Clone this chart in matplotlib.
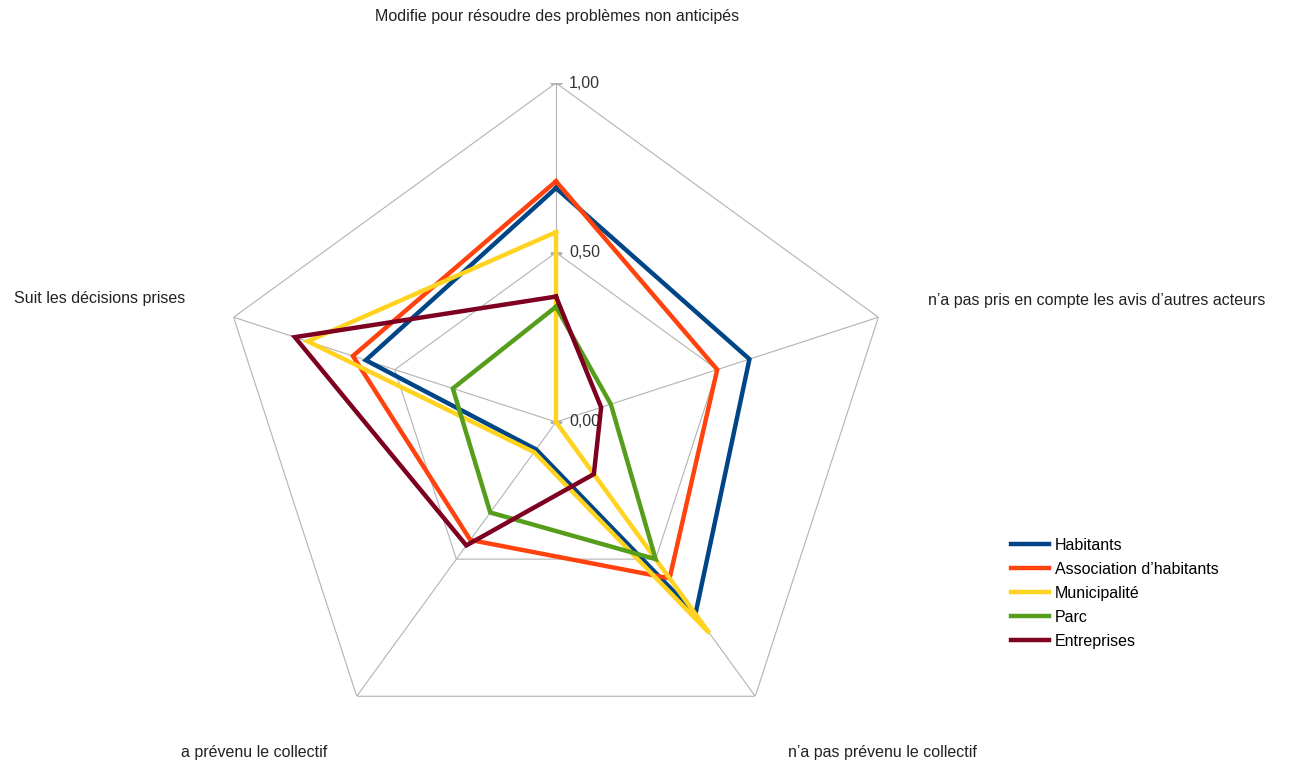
import numpy as np
import matplotlib.pyplot as plt

plt.rcParams['font.family'] = ['Liberation Sans', 'DejaVu Sans']

# Axes (clockwise from top)
categories = [
    "Modifie pour résoudre des problèmes non anticipés",
    "n’a pas pris en compte les avis d’autres acteurs",
    "n’a pas prévenu le collectif",
    "a prévenu le collectif",
    "Suit les décisions prises",
]

# Series values
habitants = [0.69, 0.60, 0.70, 0.10, 0.59]
association = [0.71, 0.50, 0.57, 0.43, 0.63]
municipalite = [0.56, 0.00, 0.77, 0.11, 0.77]
parc = [0.34, 0.17, 0.50, 0.33, 0.32]
entreprises = [0.37, 0.14, 0.19, 0.45, 0.81]

series_names = ["Habitants", "Association d’habitants", "Municipalité", "Parc", "Entreprises"]
series_values = [habitants, association, municipalite, parc, entreprises]
colors = ["#004586", "#ff420e", "#ffd320", "#579d1c", "#7e0021"]

ticks = [0.0, 0.5, 1.0]
tick_labels = ["0,00", "0,50", "1,00"]

W, H = 1289, 764
fig = plt.figure(figsize=(W / 100, H / 100), dpi=100)

# polar axes centred at (556, 422) px with radius 339 px
cx, cy, R = 556, 422, 339
ax = fig.add_axes([(cx - R) / W, (H - cy - R) / H, 2 * R / W, 2 * R / H],
                  projection='polar')
ax.set_theta_zero_location('N')
ax.set_theta_direction(-1)
ax.set_ylim(0, 1)
ax.set_axis_off()

n = len(categories)
theta = np.linspace(0, 2 * np.pi, n, endpoint=False)
theta_closed = np.append(theta, theta[0])

grid_color = "#b3b3b3"
# pentagon grid
for r in ticks[1:]:
    ax.plot(theta_closed, [r] * (n + 1), color=grid_color, lw=0.8, zorder=1)
# spokes
for t in theta:
    ax.plot([t, t], [0, 1], color=grid_color, lw=0.8, zorder=1)

# tick marks + labels on the top axis
ax.plot([0] * len(ticks), ticks, ls='', marker='_', markersize=8,
        markeredgewidth=0.8, color=grid_color, zorder=1)
for r, lab in zip(ticks, tick_labels):
    ax.annotate(lab, xy=(0, r), xytext=(13, 0), textcoords='offset pixels',
                ha='left', va='center', fontsize=11.5, color="#333333")

# data
for name, vals, c in zip(series_names, series_values, colors):
    v = np.append(vals, vals[0])
    ax.plot(theta_closed, v, color=c, lw=3.2, label=name,
            solid_joinstyle='miter', zorder=3)

# category labels
label_pos = [
    (557, 17, 'center'),
    (928, 300, 'left'),
    (882, 752, 'center'),
    (254, 752, 'center'),
    (185, 299, 'right'),
]
for text, (x, y, ha) in zip(categories, label_pos):
    fig.text(x / W, 1 - y / H, text, ha=ha, va='center', fontsize=11.5,
             color="#222222")

handles, labels = ax.get_legend_handles_labels()
fig.legend(handles, labels, loc='upper left',
           bbox_to_anchor=(1003 / W, 1 - 530 / H), frameon=False,
           fontsize=11.5, handlelength=2.4, handletextpad=0.35,
           labelspacing=0.56, borderpad=0)

fig.savefig("out.png", dpi=100)
